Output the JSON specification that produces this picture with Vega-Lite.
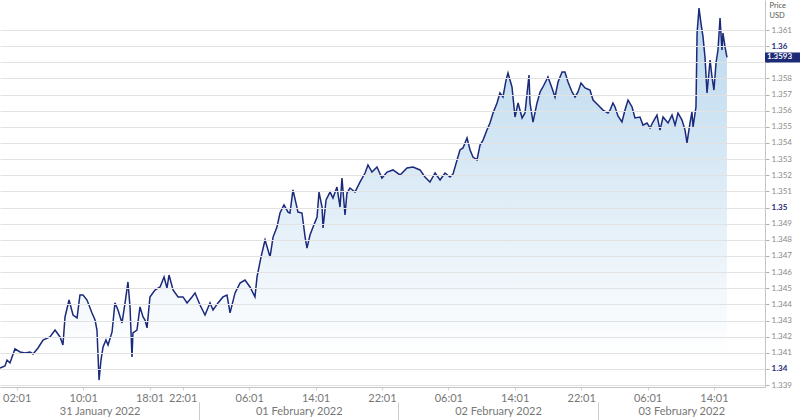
{
  "$schema": "https://vega.github.io/schema/vega-lite/v6.json",
  "autosize": "none",
  "width": 765,
  "height": 387,
  "padding": {"left": 0, "top": 0, "right": 35, "bottom": 33},
  "config": {"view": {"stroke": null}, "font": "Lato", "axis": {"labelFont": "Lato", "titleFont": "Lato"}},
  "datasets": {
    "last": [{"price": 1.3593}],
    "ticks": [
    {"t":"2022-01-31T00:00","p":1.34006},{"t":"2022-01-31T00:36","p":1.34018},{"t":"2022-01-31T00:51","p":1.34055},{"t":"2022-01-31T01:12","p":1.34037},
    {"t":"2022-01-31T01:48","p":1.34124},{"t":"2022-01-31T02:25","p":1.34105},{"t":"2022-01-31T03:01","p":1.34099},{"t":"2022-01-31T03:37","p":1.34105},
    {"t":"2022-01-31T03:59","p":1.34093},{"t":"2022-01-31T04:35","p":1.3413},{"t":"2022-01-31T05:11","p":1.34179},{"t":"2022-01-31T06:01","p":1.34198},
    {"t":"2022-01-31T06:38","p":1.34241},{"t":"2022-01-31T07:14","p":1.34198},{"t":"2022-01-31T07:35","p":1.34148},{"t":"2022-01-31T07:50","p":1.34322},
    {"t":"2022-01-31T08:19","p":1.34427},{"t":"2022-01-31T08:48","p":1.34334},{"t":"2022-01-31T09:17","p":1.34316},{"t":"2022-01-31T09:38","p":1.34458},
    {"t":"2022-01-31T10:00","p":1.34458},{"t":"2022-01-31T10:29","p":1.34427},{"t":"2022-01-31T11:05","p":1.34347},{"t":"2022-01-31T11:27","p":1.34303},
    {"t":"2022-01-31T11:41","p":1.34241},{"t":"2022-01-31T11:56","p":1.33931},{"t":"2022-01-31T12:10","p":1.34055},{"t":"2022-01-31T12:25","p":1.34136},
    {"t":"2022-01-31T12:46","p":1.34179},{"t":"2022-01-31T13:01","p":1.34148},{"t":"2022-01-31T13:30","p":1.34229},{"t":"2022-01-31T13:51","p":1.34409},
    {"t":"2022-01-31T14:13","p":1.34365},{"t":"2022-01-31T14:42","p":1.34285},{"t":"2022-01-31T15:04","p":1.34409},{"t":"2022-01-31T15:25","p":1.34539},
    {"t":"2022-01-31T15:40","p":1.34384},{"t":"2022-01-31T15:54","p":1.34074},{"t":"2022-01-31T16:01","p":1.34223},{"t":"2022-01-31T16:30","p":1.34241},
    {"t":"2022-01-31T16:52","p":1.34384},{"t":"2022-01-31T17:14","p":1.34322},{"t":"2022-01-31T17:28","p":1.34303},{"t":"2022-01-31T17:43","p":1.34254},
    {"t":"2022-01-31T18:04","p":1.34446},{"t":"2022-01-31T18:40","p":1.34489},{"t":"2022-01-31T19:17","p":1.34508},{"t":"2022-01-31T19:46","p":1.3457},
    {"t":"2022-01-31T20:07","p":1.34501},{"t":"2022-01-31T20:22","p":1.34582},{"t":"2022-01-31T20:51","p":1.34489},{"t":"2022-01-31T21:27","p":1.34446},
    {"t":"2022-01-31T22:03","p":1.34446},{"t":"2022-01-31T22:32","p":1.34409},{"t":"2022-01-31T23:08","p":1.34446},{"t":"2022-01-31T23:30","p":1.34471},
    {"t":"2022-02-01T00:06","p":1.34396},{"t":"2022-02-01T00:42","p":1.34334},{"t":"2022-02-01T01:18","p":1.34409},{"t":"2022-02-01T01:40","p":1.34365},
    {"t":"2022-02-01T02:16","p":1.34409},{"t":"2022-02-01T02:52","p":1.34446},{"t":"2022-02-01T03:21","p":1.34458},{"t":"2022-02-01T03:43","p":1.34347},
    {"t":"2022-02-01T04:19","p":1.34471},{"t":"2022-02-01T04:55","p":1.34532},{"t":"2022-02-01T05:31","p":1.34551},{"t":"2022-02-01T06:07","p":1.34508},
    {"t":"2022-02-01T06:43","p":1.34446},{"t":"2022-02-01T06:58","p":1.3457},{"t":"2022-02-01T07:27","p":1.34694},{"t":"2022-02-01T07:56","p":1.34799},
    {"t":"2022-02-01T08:32","p":1.34694},{"t":"2022-02-01T08:54","p":1.34817},{"t":"2022-02-01T09:22","p":1.34879},{"t":"2022-02-01T09:44","p":1.34966},
    {"t":"2022-02-01T10:13","p":1.35016},{"t":"2022-02-01T10:42","p":1.34972},{"t":"2022-02-01T10:56","p":1.34966},{"t":"2022-02-01T11:18","p":1.35109},
    {"t":"2022-02-01T11:54","p":1.34972},{"t":"2022-02-01T12:23","p":1.34966},{"t":"2022-02-01T12:45","p":1.3482},{"t":"2022-02-01T12:59","p":1.34749},
    {"t":"2022-02-01T13:21","p":1.3483},{"t":"2022-02-01T13:43","p":1.34879},{"t":"2022-02-01T14:12","p":1.34941},{"t":"2022-02-01T14:26","p":1.35096},
    {"t":"2022-02-01T14:48","p":1.35003},{"t":"2022-02-01T14:55","p":1.34873},{"t":"2022-02-01T15:17","p":1.35047},{"t":"2022-02-01T15:46","p":1.35096},
    {"t":"2022-02-01T16:07","p":1.35059},{"t":"2022-02-01T16:36","p":1.35127},{"t":"2022-02-01T16:58","p":1.35003},{"t":"2022-02-01T17:12","p":1.35183},
    {"t":"2022-02-01T17:34","p":1.34954},{"t":"2022-02-01T17:48","p":1.3509},{"t":"2022-02-01T18:10","p":1.35121},{"t":"2022-02-01T18:46","p":1.35096},
    {"t":"2022-02-01T19:22","p":1.35158},{"t":"2022-02-01T19:59","p":1.35214},{"t":"2022-02-01T20:20","p":1.35264},{"t":"2022-02-01T20:49","p":1.3522},
    {"t":"2022-02-01T21:25","p":1.35251},{"t":"2022-02-01T22:01","p":1.35183},{"t":"2022-02-01T22:38","p":1.3522},{"t":"2022-02-01T23:21","p":1.35233},
    {"t":"2022-02-02T00:12","p":1.35202},{"t":"2022-02-02T01:02","p":1.35245},{"t":"2022-02-02T01:46","p":1.35251},{"t":"2022-02-02T02:36","p":1.35233},
    {"t":"2022-02-02T03:12","p":1.35189},{"t":"2022-02-02T03:48","p":1.35158},{"t":"2022-02-02T04:25","p":1.35214},{"t":"2022-02-02T05:01","p":1.35171},
    {"t":"2022-02-02T05:37","p":1.35214},{"t":"2022-02-02T06:13","p":1.35189},{"t":"2022-02-02T06:35","p":1.35208},{"t":"2022-02-02T07:04","p":1.35295},
    {"t":"2022-02-02T07:25","p":1.35357},{"t":"2022-02-02T07:47","p":1.35369},{"t":"2022-02-02T08:16","p":1.35431},{"t":"2022-02-02T08:38","p":1.35357},
    {"t":"2022-02-02T08:59","p":1.35313},{"t":"2022-02-02T09:28","p":1.35295},{"t":"2022-02-02T09:50","p":1.35387},{"t":"2022-02-02T10:12","p":1.35418},
    {"t":"2022-02-02T10:40","p":1.3548},{"t":"2022-02-02T11:02","p":1.35524},{"t":"2022-02-02T11:24","p":1.35586},{"t":"2022-02-02T11:53","p":1.35648},
    {"t":"2022-02-02T12:14","p":1.3571},{"t":"2022-02-02T12:36","p":1.35685},{"t":"2022-02-02T12:58","p":1.3579},{"t":"2022-02-02T13:12","p":1.35834},
    {"t":"2022-02-02T13:41","p":1.35747},{"t":"2022-02-02T14:03","p":1.35561},{"t":"2022-02-02T14:25","p":1.35648},{"t":"2022-02-02T14:54","p":1.35555},
    {"t":"2022-02-02T15:15","p":1.35586},{"t":"2022-02-02T15:44","p":1.35821},{"t":"2022-02-02T15:51","p":1.35648},{"t":"2022-02-02T16:13","p":1.3553},
    {"t":"2022-02-02T16:42","p":1.35648},{"t":"2022-02-02T17:04","p":1.35716},{"t":"2022-02-02T17:25","p":1.35747},{"t":"2022-02-02T18:01","p":1.35809},
    {"t":"2022-02-02T18:30","p":1.35741},{"t":"2022-02-02T18:52","p":1.35685},{"t":"2022-02-02T19:14","p":1.35778},{"t":"2022-02-02T19:43","p":1.3584},
    {"t":"2022-02-02T20:04","p":1.3584},{"t":"2022-02-02T20:26","p":1.35778},{"t":"2022-02-02T20:55","p":1.35716},{"t":"2022-02-02T21:17","p":1.35685},
    {"t":"2022-02-02T21:38","p":1.35716},{"t":"2022-02-02T22:00","p":1.35772},{"t":"2022-02-02T22:29","p":1.35741},{"t":"2022-02-02T23:05","p":1.35728},
    {"t":"2022-02-02T23:27","p":1.35666},{"t":"2022-02-03T00:03","p":1.35635},{"t":"2022-02-03T00:39","p":1.35604},{"t":"2022-02-03T01:15","p":1.35586},
    {"t":"2022-02-03T01:30","p":1.35604},{"t":"2022-02-03T01:51","p":1.35648},{"t":"2022-02-03T02:06","p":1.35623},{"t":"2022-02-03T02:27","p":1.35567},
    {"t":"2022-02-03T02:56","p":1.3553},{"t":"2022-02-03T03:18","p":1.35604},{"t":"2022-02-03T03:40","p":1.35666},{"t":"2022-02-03T04:09","p":1.35623},
    {"t":"2022-02-03T04:30","p":1.35555},{"t":"2022-02-03T05:06","p":1.35561},{"t":"2022-02-03T05:28","p":1.35511},{"t":"2022-02-03T05:57","p":1.35524},
    {"t":"2022-02-03T06:19","p":1.35493},{"t":"2022-02-03T06:40","p":1.3553},{"t":"2022-02-03T07:09","p":1.35573},{"t":"2022-02-03T07:31","p":1.3548},
    {"t":"2022-02-03T07:53","p":1.35561},{"t":"2022-02-03T08:29","p":1.35524},{"t":"2022-02-03T08:58","p":1.35573},{"t":"2022-02-03T09:20","p":1.35511},
    {"t":"2022-02-03T09:41","p":1.35586},{"t":"2022-02-03T10:10","p":1.35542},{"t":"2022-02-03T10:32","p":1.3548},{"t":"2022-02-03T10:46","p":1.354},
    {"t":"2022-02-03T11:08","p":1.35524},{"t":"2022-02-03T11:22","p":1.35592},{"t":"2022-02-03T11:30","p":1.35499},{"t":"2022-02-03T11:51","p":1.35623},
    {"t":"2022-02-03T11:59","p":1.36081},{"t":"2022-02-03T12:13","p":1.36236},{"t":"2022-02-03T12:27","p":1.36143},{"t":"2022-02-03T12:42","p":1.36057},
    {"t":"2022-02-03T12:56","p":1.35933},{"t":"2022-02-03T13:11","p":1.3571},{"t":"2022-02-03T13:33","p":1.35914},{"t":"2022-02-03T13:47","p":1.35809},
    {"t":"2022-02-03T14:01","p":1.35728},{"t":"2022-02-03T14:16","p":1.35896},{"t":"2022-02-03T14:30","p":1.35976},{"t":"2022-02-03T14:45","p":1.36174},
    {"t":"2022-02-03T14:59","p":1.35976},{"t":"2022-02-03T15:06","p":1.36081},{"t":"2022-02-03T15:21","p":1.35995},{"t":"2022-02-03T15:35","p":1.3593}
  ]},
  "resolve": {"axis": {"x": "independent", "y": "independent"}},
  "layer": [
    {
      "data": {"name": "ticks"},
      "mark": {"type": "area", "line": false, "clip": true, "fill": {"x1": 0, "y1": 0, "x2": 0, "y2": 1, "gradient": "linear", "stops": [{"offset": 0, "color": "#b9d7ed"}, {"offset": 0.92, "color": "#ffffff"}]}},
      "encoding": {
        "x": {"field": "t", "type": "temporal",
          "scale": {"domain": [{"year": 2022, "month": 1, "date": 31}, {"year": 2022, "month": 2, "date": 3, "hours": 20, "minutes": 10}], "nice": false},
          "axis": {"orient": "bottom", "title": null, "grid": false, "format": "%H:%M",
            "values": [
              {"year": 2022, "month": 1, "date": 31, "hours": 2, "minutes": 1},
              {"year": 2022, "month": 1, "date": 31, "hours": 10, "minutes": 1},
              {"year": 2022, "month": 1, "date": 31, "hours": 18, "minutes": 1},
              {"year": 2022, "month": 1, "date": 31, "hours": 22, "minutes": 1},
              {"year": 2022, "month": 2, "date": 1, "hours": 6, "minutes": 1},
              {"year": 2022, "month": 2, "date": 1, "hours": 14, "minutes": 1},
              {"year": 2022, "month": 2, "date": 1, "hours": 22, "minutes": 1},
              {"year": 2022, "month": 2, "date": 2, "hours": 6, "minutes": 1},
              {"year": 2022, "month": 2, "date": 2, "hours": 14, "minutes": 1},
              {"year": 2022, "month": 2, "date": 2, "hours": 22, "minutes": 1},
              {"year": 2022, "month": 2, "date": 3, "hours": 6, "minutes": 1},
              {"year": 2022, "month": 2, "date": 3, "hours": 14, "minutes": 1}
            ],
            "domainColor": "#c4c4c4", "tickColor": "#d0d0d0", "tickSize": 3, "labelPadding": 2,
            "labelColor": "#777777", "labelFontSize": 11, "labelFlush": false, "labelOverlap": false}},
        "y": {"field": "p", "type": "quantitative",
          "scale": {"domain": [1.33888, 1.36286], "nice": false, "zero": false},
          "axis": {"orient": "right", "grid": false, "format": ".3~f",
            "values": [1.339, 1.34, 1.341, 1.342, 1.343, 1.344, 1.345, 1.346, 1.347, 1.348, 1.349, 1.35, 1.351, 1.352, 1.353, 1.354, 1.355, 1.356, 1.357, 1.358, 1.359, 1.36, 1.361],
            "labelExpr": "abs(datum.value - 1.359) < 0.0001 ? '' : datum.label",
            "domainColor": "#c4c4c4", "tickColor": "#b0b0b0", "tickSize": 4, "labelPadding": 2,
            "labelFontSize": 8, "labelOverlap": false, "labelFlush": false,
            "labelColor": {"condition": {"test": "abs(datum.value*100 - round(datum.value*100)) < 0.001", "value": "#1c2a78"}, "value": "#8a8a8a"},
            "labelFontWeight": {"condition": {"test": "abs(datum.value*100 - round(datum.value*100)) < 0.001", "value": "bold"}, "value": "normal"},
            "title": ["Price", "USD"], "titleAngle": 0, "titleAlign": "left", "titleBaseline": "top",
            "titleX": 4, "titleY": 1, "titleFontSize": 7.5, "titleFontWeight": "normal", "titleColor": "#555555", "titleLineHeight": 10}},
        "y2": {"datum": 1.33888}
      }
    },
    {
      "data": {"name": "ticks"},
      "mark": {"type": "line", "color": "#1b2a7a", "strokeWidth": 1.5},
      "encoding": {
        "x": {"field": "t", "type": "temporal",
          "axis": {"orient": "bottom", "title": null, "grid": false, "domain": false, "ticks": false, "offset": 16, "labelPadding": 2,
            "format": "%d %B %Y", "labelColor": "#777777", "labelFontSize": 11, "labelFlush": false, "labelOverlap": false,
            "values": [
              {"year": 2022, "month": 1, "date": 31, "hours": 12},
              {"year": 2022, "month": 2, "date": 1, "hours": 12},
              {"year": 2022, "month": 2, "date": 2, "hours": 12},
              {"year": 2022, "month": 2, "date": 3, "hours": 10, "minutes": 5}
            ]}},
        "y": {"field": "p", "type": "quantitative",
          "axis": {"orient": "left", "grid": true, "gridColor": "#e2e2e2", "gridWidth": 1, "labels": false, "ticks": false, "domain": false, "title": null, "zindex": 1,
            "values": [1.339, 1.34, 1.341, 1.342, 1.343, 1.344, 1.345, 1.346, 1.347, 1.348, 1.349, 1.35, 1.351, 1.352, 1.353, 1.354, 1.355, 1.356, 1.357, 1.358, 1.359, 1.36, 1.361]}}
      }
    },
    {
      "data": {"name": "last"},
      "mark": {"type": "rule", "color": "#1c2a78", "strokeWidth": 10, "strokeCap": "butt"},
      "encoding": {
        "x": {"datum": {"year": 2022, "month": 2, "date": 3, "hours": 20, "minutes": 10}, "type": "temporal",
          "axis": {"orient": "bottom", "title": null, "grid": false, "domain": false, "labels": false, "ticks": true, "tickSize": 18, "tickColor": "#cccccc", "offset": 15,
            "values": [
              {"year": 2022, "month": 2, "date": 1},
              {"year": 2022, "month": 2, "date": 2},
              {"year": 2022, "month": 2, "date": 3}
            ]}},
        "x2": {"datum": {"year": 2022, "month": 2, "date": 4, "hours": 0, "minutes": 40}},
        "y": {"field": "price", "type": "quantitative", "axis": null}
      }
    },
    {
      "data": {"name": "last"},
      "mark": {"type": "text", "color": "#ffffff", "fontSize": 8, "fontWeight": "bold", "align": "left", "baseline": "middle", "dx": 2},
      "encoding": {
        "x": {"datum": {"year": 2022, "month": 2, "date": 3, "hours": 20, "minutes": 10}, "type": "temporal", "axis": null},
        "y": {"field": "price", "type": "quantitative", "axis": null},
        "text": {"field": "price", "type": "quantitative", "format": ".4f"}
      }
    }
  ]
}
